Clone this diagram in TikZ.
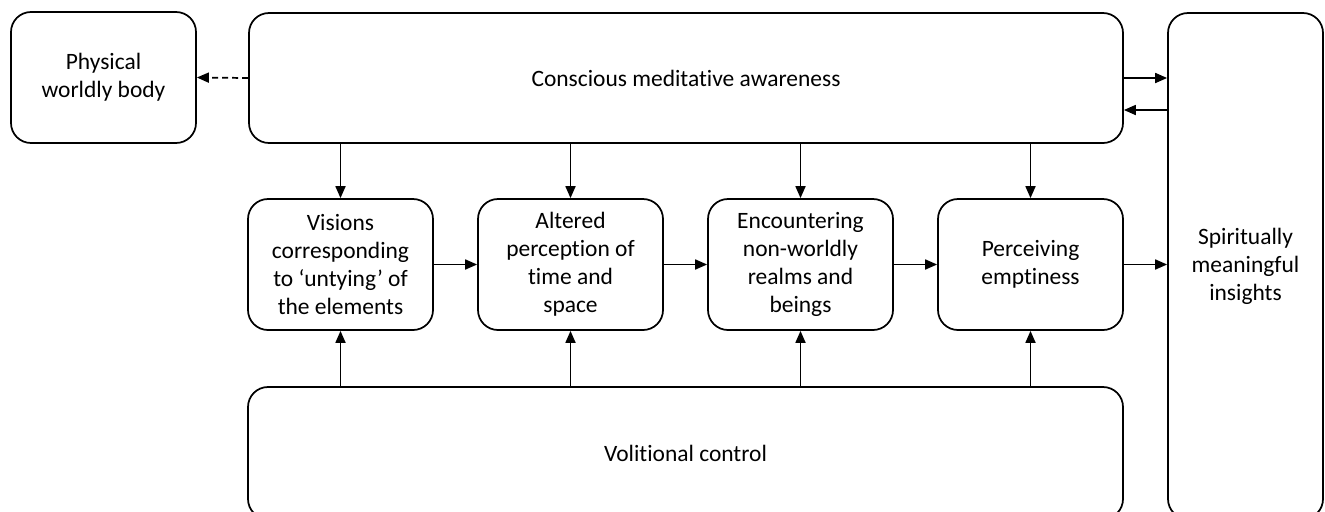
\documentclass[tikz,border=0pt]{standalone}
\usepackage{fontspec}
\setmainfont{Carlito}[Ligatures=NoCommon]
\usetikzlibrary{arrows.meta}
\begin{document}
\begin{tikzpicture}[x=0.75pt,y=-0.75pt,
  box/.style={draw,line width=1.3pt,rounded corners=15pt,inner sep=0pt,align=center,
    font=\fontsize{17.6}{21}\selectfont},
  arr/.style={line width=1.3pt,-{Triangle[length=9pt,width=7.5pt]}}]
\useasboundingbox (0,0) rectangle (1325,511);
\clip (0,0) rectangle (1325,511);
\node[box,minimum width=138.75pt,minimum height=98.25pt] (phys) at (103.5,77.5) {Physical\\worldly body};
\node[box,minimum width=655.5pt,minimum height=97.5pt] (cons) at (686,78) {Conscious meditative awareness};
\node[box,minimum width=116.25pt,minimum height=379.5pt] (spir) at (1245.5,266) {Spiritually\\meaningful\\insights};
\node[box,minimum width=138.75pt,minimum height=98.25pt] (b1) at (340.5,264.5) {Visions\\corresponding\\to ‘untying’ of\\the elements};
\node[box,minimum width=138.75pt,minimum height=98.25pt] (b2) at (570.5,264.5) {Altered\\perception of\\time and\\space};
\node[box,minimum width=138.75pt,minimum height=98.25pt] (b3) at (800.5,264.5) {Encountering\\non-worldly\\realms and\\beings};
\node[box,minimum width=138.75pt,minimum height=98.25pt] (b4) at (1030.5,264.5) {Perceiving\\emptiness};
\node[box,minimum width=656.25pt,minimum height=99pt] (vol) at (685.5,453) {Volitional control};
% connectors
\draw[arr,dash pattern=on 4.5pt off 3pt] (cons.west) -- (phys.east);
\draw[arr] (cons.east) -- (cons.east -| spir.west);
\path ([yshift=-24pt]cons.east) coordinate (fb);
\draw[arr] (fb -| spir.west) -- (fb);
\foreach \b in {b1,b2,b3,b4}{
  \draw[arr] (cons.south -| \b) -- (\b);
  \draw[arr] (vol.north -| \b) -- (\b);
}
\draw[arr] (b1) -- (b2);
\draw[arr] (b2) -- (b3);
\draw[arr] (b3) -- (b4);
\draw[arr] (b4.east) -- (b4.east -| spir.west);
\end{tikzpicture}
\end{document}
